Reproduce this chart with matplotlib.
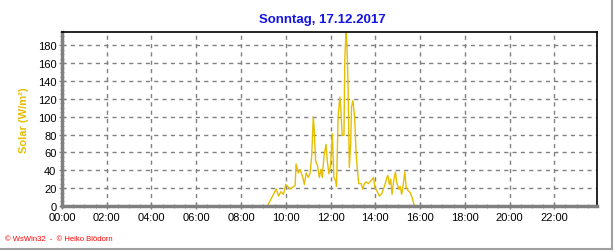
import matplotlib.pyplot as plt
from matplotlib.ticker import MultipleLocator, FuncFormatter
from matplotlib.lines import Line2D

plt.rcParams['font.family'] = ['Liberation Sans', 'DejaVu Sans']

# Zeitpunkte (Stunden) und Globalstrahlung (W/m²)
stunden = [0.0, 9.18, 9.45, 9.57, 9.68, 9.78, 9.90, 10.00, 10.12, 10.19, 10.42, 10.46,
           10.56, 10.64, 10.76, 10.83, 10.91, 11.01, 11.09, 11.16, 11.23, 11.27, 11.33,
           11.42, 11.50, 11.57, 11.63, 11.71, 11.80, 11.86, 11.93, 12.00, 12.08, 12.15,
           12.23, 12.27, 12.34, 12.42, 12.46, 12.52, 12.60, 12.64, 12.69, 12.73, 12.78,
           12.84, 12.90, 12.94, 13.00, 13.08, 13.14, 13.20, 13.26, 13.37, 13.44, 13.51,
           13.59, 13.69, 13.80, 13.92, 13.98, 14.07, 14.19, 14.29, 14.41, 14.52, 14.56,
           14.63, 14.69, 14.75, 14.81, 14.90, 14.96, 15.05, 15.11, 15.18, 15.26, 15.32,
           15.38, 15.47, 15.56, 15.65, 15.74, 15.78, 23.92]
solar = [0, 0, 13, 19, 11, 16, 13, 24, 21, 19, 23, 47,
         37, 41, 32, 24, 37, 32, 37, 56, 100, 86, 51,
         45, 32, 41, 32, 56, 69, 49, 36, 45, 81, 32,
         28, 22, 101, 122, 109, 79, 79, 165, 195, 184, 139,
         43, 69, 111, 118, 99, 60, 41, 25, 25, 19, 25,
         27, 25, 28, 32, 21, 17, 11, 14, 22, 32, 34,
         24, 30, 13, 26, 38, 26, 19, 22, 13, 26, 38,
         21, 17, 15, 9, 1, 0, 0]

gold = '#E6BE00'
grau = '#808080'

fig = plt.figure(figsize=(6.16, 2.53), dpi=100)
ax = fig.add_axes([0.1006, 0.182, 0.869, 0.688])

ax.plot(stunden, solar, color=gold, lw=1.0)

ax.set_xlim(0, 23.92)
ax.set_ylim(0, 195)
ax.xaxis.set_major_locator(MultipleLocator(2))
ax.xaxis.set_minor_locator(MultipleLocator(0.5))
ax.xaxis.set_major_formatter(FuncFormatter(lambda v, p: '%02d:00' % int(round(v))))
ax.yaxis.set_major_locator(MultipleLocator(20))
ax.yaxis.set_minor_locator(MultipleLocator(5))

ax.grid(True, which='major', color=grau, ls=(0, (3, 3)), lw=1)
ax.tick_params(axis='both', which='major', labelsize=8, color=grau, length=4,
               direction='inout', width=1, pad=2)
ax.tick_params(axis='both', which='minor', color=grau, length=3, direction='inout')

for s in ['left', 'bottom']:
    ax.spines[s].set_color(grau)
    ax.spines[s].set_linewidth(2.5)
for s in ['top', 'right']:
    ax.spines[s].set_color('black')
    ax.spines[s].set_linewidth(1.2)

ax.set_ylabel('Solar (W/m²)', color=gold, fontsize=8, fontweight='bold', labelpad=6)
fig.text(0.524, 0.921, 'Sonntag, 17.12.2017', color='#1414E6', fontsize=9.5,
         fontweight='bold', ha='center', va='center')
fig.text(0.008, 0.052, '© WsWin32  -  © Heiko Blödorn', color='red', fontsize=5.5,
         ha='left', va='center')

fig.add_artist(Line2D([0.9935, 0.9935], [0.012, 1.0], color='#A0A0A0', lw=1.5,
                      transform=fig.transFigure))
fig.add_artist(Line2D([0.0, 0.9935], [0.012, 0.012], color='#A0A0A0', lw=1.5,
                      transform=fig.transFigure))

fig.savefig('out.png', dpi=100)
